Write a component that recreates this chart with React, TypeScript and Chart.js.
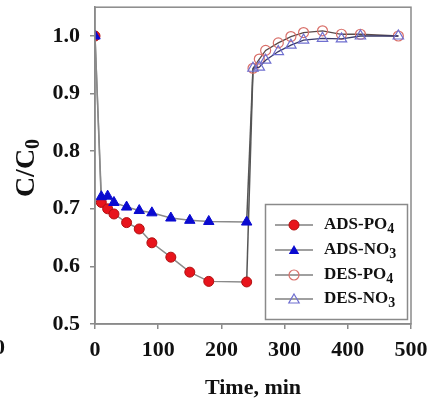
import React, { useEffect, useRef } from 'react';
import { Chart, registerables } from 'chart.js';
Chart.register(...registerables);

const adsTime = [0, 10, 20, 30, 50, 70, 90, 120, 150, 180, 240];
const adsPo4 = [1.0, 0.711, 0.700, 0.691, 0.676, 0.665, 0.641, 0.616, 0.590, 0.574, 0.573];
const adsNo3 = [1.0, 0.721, 0.722, 0.711, 0.703, 0.697, 0.693, 0.684, 0.680, 0.678, 0.677];
const desTime = [250, 260, 270, 290, 310, 330, 360, 390, 420, 480];
const desPo4 = [0.944, 0.960, 0.975, 0.988, 0.999, 1.006, 1.009, 1.003, 1.003, 1.000];
const desNo3 = [0.944, 0.946, 0.958, 0.973, 0.984, 0.993, 0.996, 0.995, 1.000, 1.000];
const xTicks = [0, 100, 200, 300, 400, 500];
const yTicks = [0.5, 0.6, 0.7, 0.8, 0.9, 1.0];
const legendBase = ['ADS-PO', 'ADS-NO', 'DES-PO', 'DES-NO'];
const legendSub = ['4', '3', '4', '3'];
const xTitle = 'Time, min';
const yTitleBase = 'C/C';
const yTitleSub = '0';

const FONT = "'Liberation Serif', 'Times New Roman', serif";
const RED = '#e8141c';
const BLUE = '#0a0ad0';
const OPEN_RED = '#d9706a';
const OPEN_BLUE = '#6f6fd0';
const FRAME = '#8a8a8a';

function pts(xs: number[], ys: number[]) {
  return xs.map((x, i) => ({ x, y: ys[i] }));
}

function tri(ctx: CanvasRenderingContext2D, x: number, y: number, r: number) {
  ctx.beginPath();
  for (let k = 0; k < 3; k++) {
    const a = (k * 2 * Math.PI) / 3;
    const px = x + Math.sin(a) * r;
    const py = y - Math.cos(a) * r;
    if (k === 0) ctx.moveTo(px, py);
    else ctx.lineTo(px, py);
  }
  ctx.closePath();
}

const overlay = {
  id: 'overlay',
  afterDraw(chart: any) {
    const ctx: CanvasRenderingContext2D = chart.ctx;
    const a = chart.chartArea;
    ctx.save();
    // frame
    ctx.strokeStyle = FRAME;
    ctx.lineWidth = 1.5;
    ctx.strokeRect(a.left, a.top, a.right - a.left, a.bottom - a.top);

    // x title
    ctx.fillStyle = '#111';
    ctx.font = `bold 22px ${FONT}`;
    ctx.textAlign = 'center';
    ctx.textBaseline = 'middle';
    ctx.fillText(xTitle, (a.left + a.right) / 2, 388);

    // y title
    ctx.save();
    ctx.translate(25, 168);
    ctx.rotate(-Math.PI / 2);
    ctx.font = `bold 28px ${FONT}`;
    const wb = ctx.measureText(yTitleBase).width;
    ctx.font = `bold 20px ${FONT}`;
    const ws = ctx.measureText(yTitleSub).width;
    const start = -(wb + ws) / 2;
    ctx.textAlign = 'left';
    ctx.textBaseline = 'alphabetic';
    ctx.font = `bold 28px ${FONT}`;
    ctx.fillText(yTitleBase, start, 9);
    ctx.font = `bold 20px ${FONT}`;
    ctx.fillText(yTitleSub, start + wb, 14);
    ctx.restore();

    // stray clipped label from neighbouring figure
    ctx.font = `bold 22px ${FONT}`;
    ctx.textAlign = 'right';
    ctx.textBaseline = 'middle';
    ctx.fillText('0', 5, 348);

    // legend box
    const bx = 265.5, by = 204.5, bw = 142, bh = 115;
    ctx.fillStyle = '#fff';
    ctx.fillRect(bx, by, bw, bh);
    ctx.strokeStyle = FRAME;
    ctx.lineWidth = 1.5;
    ctx.strokeRect(bx, by, bw, bh);
    const rows = [225, 250, 275, 299];
    rows.forEach((ry, i) => {
      ctx.strokeStyle = '#808080';
      ctx.lineWidth = 1.5;
      ctx.beginPath();
      ctx.moveTo(275, ry);
      ctx.lineTo(313, ry);
      ctx.stroke();
      const mx = 294;
      if (i === 0) {
        ctx.beginPath();
        ctx.arc(mx, ry, 5, 0, Math.PI * 2);
        ctx.fillStyle = RED;
        ctx.fill();
        ctx.strokeStyle = '#b01010';
        ctx.lineWidth = 1;
        ctx.stroke();
      } else if (i === 1) {
        tri(ctx, mx, ry + 1, 6);
        ctx.fillStyle = BLUE;
        ctx.fill();
      } else if (i === 2) {
        ctx.beginPath();
        ctx.arc(mx, ry, 5, 0, Math.PI * 2);
        ctx.strokeStyle = OPEN_RED;
        ctx.lineWidth = 1.2;
        ctx.stroke();
      } else {
        tri(ctx, mx, ry + 1, 6);
        ctx.strokeStyle = OPEN_BLUE;
        ctx.lineWidth = 1.2;
        ctx.stroke();
      }
      ctx.fillStyle = '#111';
      ctx.textAlign = 'left';
      ctx.textBaseline = 'middle';
      ctx.font = `bold 17px ${FONT}`;
      ctx.fillText(legendBase[i], 324, ry);
      const w = ctx.measureText(legendBase[i]).width;
      ctx.font = `bold 14px ${FONT}`;
      ctx.fillText(legendSub[i], 324 + w, ry + 4);
    });
    ctx.restore();
  },
};

export default function App() {
  const ref = useRef<HTMLCanvasElement | null>(null);
  useEffect(() => {
    if (!ref.current) return;
    const lastA = adsTime.length - 1;
    const chart = new Chart(ref.current, {
      type: 'scatter',
      data: {
        datasets: [
          {
            label: 'conn-PO4',
            data: [
              { x: adsTime[lastA], y: adsPo4[lastA] },
              { x: desTime[0], y: desPo4[0] },
            ],
            showLine: true,
            borderColor: '#555',
            borderWidth: 1.5,
            pointRadius: 0,
            order: 9,
          },
          {
            label: 'conn-NO3',
            data: [
              { x: adsTime[lastA], y: adsNo3[lastA] },
              { x: desTime[0], y: desNo3[0] },
            ],
            showLine: true,
            borderColor: '#555',
            borderWidth: 1.5,
            pointRadius: 0,
            order: 9,
          },
          {
            label: 'ADS-PO4',
            data: pts(adsTime, adsPo4),
            showLine: true,
            borderColor: '#8a8a8a',
            borderWidth: 1.5,
            pointStyle: 'circle',
            pointRadius: 5,
            pointBackgroundColor: RED,
            pointBorderColor: '#b01010',
            pointBorderWidth: 1,
            order: 2,
          },
          {
            label: 'ADS-NO3',
            data: pts(adsTime, adsNo3),
            showLine: true,
            borderColor: '#8a8a8a',
            borderWidth: 1.5,
            pointStyle: 'triangle',
            pointRadius: 6,
            pointBackgroundColor: BLUE,
            pointBorderColor: BLUE,
            pointBorderWidth: 1,
            order: 1,
          },
          {
            label: 'DES-PO4',
            data: pts(desTime, desPo4),
            showLine: true,
            borderColor: '#5a4a4a',
            borderWidth: 1.3,
            pointStyle: 'circle',
            pointRadius: 5,
            pointBackgroundColor: 'rgba(0,0,0,0)',
            pointBorderColor: OPEN_RED,
            pointBorderWidth: 1.2,
            order: 4,
          },
          {
            label: 'DES-NO3',
            data: pts(desTime, desNo3),
            showLine: true,
            borderColor: '#3a3a6a',
            borderWidth: 1.3,
            pointStyle: 'triangle',
            pointRadius: 6,
            pointBackgroundColor: 'rgba(0,0,0,0)',
            pointBorderColor: OPEN_BLUE,
            pointBorderWidth: 1.2,
            order: 3,
          },
        ],
      },
      options: {
        animation: false,
        responsive: false,
        events: [],
        layout: { padding: { top: 7, right: 27, left: 0, bottom: 0 } },
        plugins: { legend: { display: false }, tooltip: { enabled: false } },
        scales: {
          x: {
            type: 'linear',
            min: 0,
            max: 500,
            afterBuildTicks: (s: any) => {
              s.ticks = xTicks.map((v) => ({ value: v }));
            },
            afterFit: (s: any) => {
              s.height = 79;
              s.paddingLeft = 0;
              s.paddingRight = 0;
            },
            grid: { drawOnChartArea: false, drawTicks: true, tickLength: 5, color: FRAME, lineWidth: 1.5 },
            border: { display: true, color: FRAME, width: 1.5 },
            ticks: {
              color: '#111',
              padding: 8,
              maxRotation: 0,
              font: { family: FONT, size: 22, weight: 'bold' },
            },
          },
          y: {
            type: 'linear',
            min: 0.5,
            max: 1.05,
            afterBuildTicks: (s: any) => {
              s.ticks = yTicks.map((v) => ({ value: v }));
            },
            afterFit: (s: any) => {
              s.width = 95;
              s.paddingTop = 0;
              s.paddingBottom = 0;
            },
            grid: { drawOnChartArea: false, drawTicks: true, tickLength: 5, color: FRAME, lineWidth: 1.5 },
            border: { display: true, color: FRAME, width: 1.5 },
            ticks: {
              color: '#111',
              padding: 10,
              font: { family: FONT, size: 22, weight: 'bold' },
              callback: (v: any) => Number(v).toFixed(1),
            },
          },
        },
      },
      plugins: [overlay],
    });
    return () => chart.destroy();
  }, []);
  return (
    <div style={{ position: 'fixed', left: 0, top: 0, width: 438, height: 403, background: '#fff' }}>
      <canvas ref={ref} width={438} height={403} style={{ width: 438, height: 403 }} />
    </div>
  );
}
